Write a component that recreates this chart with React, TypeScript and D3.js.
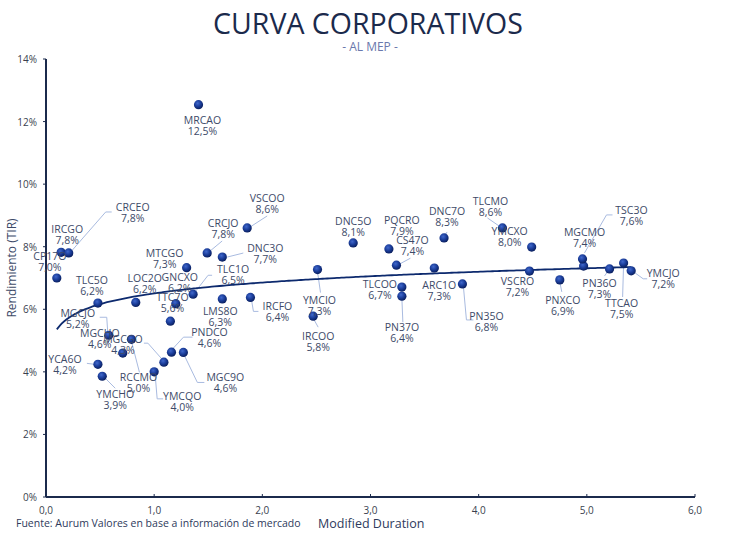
import React from "react";
import * as d3 from "d3";

const WIDTH = 736;
const HEIGHT = 536;
const MARGIN = { top: 59, right: 41, bottom: 39, left: 46 };

// bonds: ticker, modified duration, yield (%)
const tickers = [
  "MRCAO", "CP17O", "IRCGO", "CRCEO", "TLC5O", "LOC2O", "MTCGO", "GNCXO", "TLC1O", "TTC7O",
  "CRCJO", "DNC3O", "VSCOO", "LMS8O", "IRCFO", "MGCJO", "MGCHO", "MGCGO", "YCA6O", "YMCHO",
  "RCCMO", "YMCQO", "PNDCO", "MGC9O", "DNC5O", "PQCRO", "CS47O", "DNC7O", "ARC1O", "YMCIO",
  "IRCOO", "TLCOO", "PN37O", "PN35O", "TLCMO", "YMCXO", "VSCRO", "PNXCO", "MGCMO", "TSC3O",
  "PN36O", "TTCAO", "YMCJO",
];
const durations = [
  1.41, 0.10, 0.14, 0.21, 0.48, 0.83, 1.30, 1.20, 1.36, 1.15,
  1.49, 1.63, 1.86, 1.63, 1.89, 0.58, 0.71, 1.09, 0.48, 0.52,
  0.79, 1.00, 1.16, 1.27, 2.84, 3.17, 3.24, 3.68, 3.59, 2.51,
  2.47, 3.29, 3.29, 3.85, 4.22, 4.49, 4.47, 4.75, 4.97, 4.96,
  5.21, 5.34, 5.41,
];
const yields = [
  12.54, 7.0, 7.82, 7.8, 6.2, 6.22, 7.33, 6.18, 6.48, 5.62,
  7.8, 7.67, 8.6, 6.33, 6.38, 5.17, 4.6, 4.31, 4.24, 3.86,
  5.04, 4.0, 4.63, 4.62, 8.12, 7.93, 7.41, 8.28, 7.32, 7.27,
  5.78, 6.71, 6.42, 6.81, 8.6, 7.99, 7.22, 6.94, 7.38, 7.61,
  7.29, 7.48, 7.23,
];

const xTicks = [0, 1, 2, 3, 4, 5, 6];
const yTicks = [0, 2, 4, 6, 8, 10, 12, 14];

// label placement (px, relative to the dot) and leader line points
type LabelPos = { dx: number; dy: number; leader?: [number, number][] };
const LABELS: Record<string, LabelPos> = {
  MRCAO: { dx: 4, dy: 15 },
  CP17O: { dx: -7, dy: -22 },
  IRCGO: { dx: 6, dy: -23 },
  CRCEO: { dx: 64, dy: -46, leader: [[2, -1], [37, -41], [43, -41]] },
  TLC5O: { dx: -6, dy: -23 },
  LOC2O: { dx: 9, dy: -24 },
  MTCGO: { dx: -22, dy: -15 },
  GNCXO: { dx: 4, dy: -27 },
  TLC1O: { dx: 40, dy: -25, leader: [[1, -1], [15, -19], [19, -19]] },
  TTC7O: { dx: 2, dy: -24 },
  CRCJO: { dx: 16, dy: -30, leader: [[3, -2], [15, -12]] },
  DNC3O: { dx: 43, dy: -9, leader: [[5, 0], [21, -4]] },
  VSCOO: { dx: 20, dy: -30, leader: [[3, -1], [20, -12]] },
  LMS8O: { dx: -2, dy: 12 },
  IRCFO: { dx: 27, dy: 9, leader: [[1, 2], [3, 14], [8, 14]] },
  MGCJO: { dx: -31, dy: -22, leader: [[-1, -3], [-2, -18], [-9, -18]] },
  MGCHO: { dx: -23, dy: -20 },
  MGCGO: { dx: -41, dy: -23, leader: [[-1, -2], [-16, -19], [-20, -19]] },
  YCA6O: { dx: -33, dy: -5, leader: [[-3, 0], [-11, -1]] },
  YMCHO: { dx: 13, dy: 18, leader: [[1, 0], [13, 12]] },
  RCCMO: { dx: 7, dy: 38, leader: [[0, 2], [8, 33]] },
  YMCQO: { dx: 28, dy: 24, leader: [[1, 3], [3, 27], [9, 27]] },
  PNDCO: { dx: 38, dy: -20, leader: [[0, -2], [12, -15], [21, -15]] },
  MGC9O: { dx: 42, dy: 25, leader: [[0, 1], [14, 30], [21, 30]] },
  DNC5O: { dx: 0, dy: -22 },
  PQCRO: { dx: 13, dy: -29 },
  CS47O: { dx: 16, dy: -25, leader: [[1, 0], [14, -7]] },
  DNC7O: { dx: 3, dy: -27, leader: [[0, -1], [3, -6]] },
  ARC1O: { dx: 5, dy: 17 },
  YMCIO: { dx: 2, dy: 30, leader: [[0, 2], [3, 23]] },
  IRCOO: { dx: 5, dy: 20, leader: [[0, 2], [5, 11]] },
  TLCOO: { dx: -22, dy: -3 },
  PN37O: { dx: 0, dy: 31, leader: [[0, 2], [1, 26]] },
  PN35O: { dx: 24, dy: 32, leader: [[1, 3], [4, 36], [11, 36]] },
  TLCMO: { dx: -12, dy: -27, leader: [[-2, -1], [-15, -10]] },
  YMCXO: { dx: -22, dy: -16 },
  VSCRO: { dx: -12, dy: 10 },
  PNXCO: { dx: 3, dy: 20, leader: [[0, 2], [2, 12]] },
  MGCMO: { dx: 1, dy: -34 },
  TSC3O: { dx: 49, dy: -49, leader: [[2, -6], [24, -44], [30, -44]] },
  PN36O: { dx: -10, dy: 14, leader: [[0, 0], [-5, 7]] },
  TTCAO: { dx: -2, dy: 40, leader: [[0, 0], [-1, 34]] },
  YMCJO: { dx: 32, dy: 2, leader: [[1, 0], [12, 8], [16, 8]] },
};

const FONT = "'Open Sans', 'Noto Sans', sans-serif";
const NAVY = "#1b2a4c";
const LABEL_COLOR = "#3d4a68";

const fmtPct = (v: number) => v.toFixed(1).replace(".", ",") + "%";

export default function App() {
  const boundsWidth = WIDTH - MARGIN.left - MARGIN.right;
  const boundsHeight = HEIGHT - MARGIN.top - MARGIN.bottom;

  const xScale = d3.scaleLinear().domain([0, 6]).range([0, boundsWidth]);
  const yScale = d3.scaleLinear().domain([0, 14]).range([boundsHeight, 0]);

  const data = tickers.map((t, i) => ({ name: t, x: durations[i], y: yields[i] }));

  // logarithmic trend line (least squares on ln(x))
  const lx = data.map((d) => Math.log(d.x));
  const mx = d3.mean(lx) as number;
  const my = d3.mean(data, (d) => d.y) as number;
  const b =
    d3.sum(data, (d, i) => (lx[i] - mx) * (d.y - my)) /
    d3.sum(lx, (v) => (v - mx) * (v - mx));
  const a = my - b * mx;
  const [xMin, xMax] = d3.extent(durations) as [number, number];
  const trendPts = d3.range(0, 121).map((i) => {
    const x = xMin + ((xMax - xMin) * i) / 120;
    return [x, a + b * Math.log(x)] as [number, number];
  });
  const trendPath = d3
    .line<[number, number]>()
    .x((d) => xScale(d[0]))
    .y((d) => yScale(d[1]))
    .curve(d3.curveMonotoneX)(trendPts);

  return (
    <div style={{ position: "absolute", left: 0, top: 0 }}>
      <svg width={WIDTH} height={HEIGHT} style={{ display: "block", background: "#fff" }}>
        <defs>
          <radialGradient id="dotGrad" cx="40%" cy="35%" r="65%">
            <stop offset="0%" stopColor="#4068cc" />
            <stop offset="55%" stopColor="#1a3c98" />
            <stop offset="100%" stopColor="#0a1f5e" />
          </radialGradient>
        </defs>

        {/* titles */}
        <text x={368} y={34} textAnchor="middle" fontFamily={FONT} fontSize={28.5} fill={NAVY}>
          CURVA CORPORATIVOS
        </text>
        <text x={370} y={51} textAnchor="middle" fontFamily={FONT} fontSize={12} fill="#6a78ac">
          - AL MEP -
        </text>

        <g transform={`translate(${MARGIN.left},${MARGIN.top})`}>
          {/* y axis */}
          <line x1={0} x2={0} y1={0} y2={boundsHeight} stroke={NAVY} strokeWidth={2} />
          {yTicks.map((t) => (
            <g key={t} transform={`translate(0,${yScale(t)})`}>
              <line x1={-3} x2={0} stroke={NAVY} strokeWidth={1} />
              <text x={-9} y={4} textAnchor="end" fontFamily={FONT} fontSize={10} fill="#3a3f4f">
                {t}%
              </text>
            </g>
          ))}
          {/* x axis */}
          <line x1={0} x2={boundsWidth} y1={boundsHeight} y2={boundsHeight} stroke={NAVY} strokeWidth={2} />
          {xTicks.map((t) => (
            <g key={t} transform={`translate(${xScale(t)},${boundsHeight})`}>
              <line y1={-3} y2={0} stroke={NAVY} strokeWidth={1} />
              <text y={17} textAnchor="middle" fontFamily={FONT} fontSize={10} fill="#3a3f4f">
                {t.toFixed(1).replace(".", ",")}
              </text>
            </g>
          ))}

          {/* leader lines */}
          {data.map((d) => {
            const p = LABELS[d.name];
            if (!p || !p.leader) return null;
            const cx = xScale(d.x);
            const cy = yScale(d.y);
            const pts = p.leader.map(([lx2, ly2]) => `${cx + lx2},${cy + ly2}`).join(" ");
            return (
              <polyline key={"l" + d.name} points={pts} fill="none" stroke="#a9bbe0" strokeWidth={1} />
            );
          })}

          {/* trend line */}
          <path d={trendPath || ""} fill="none" stroke="#0d2a6e" strokeWidth={1.8} />

          {/* dots */}
          {data.map((d) => (
            <circle
              key={d.name}
              cx={xScale(d.x)}
              cy={yScale(d.y)}
              r={4.6}
              fill="url(#dotGrad)"
            />
          ))}

          {/* data labels */}
          {data.map((d) => {
            const p = LABELS[d.name] || { dx: 0, dy: -20 };
            const cx = xScale(d.x) + p.dx;
            const cy = yScale(d.y) + p.dy;
            return (
              <text
                key={"t" + d.name}
                textAnchor="middle"
                fontFamily={FONT}
                fontSize={10.5}
                fill={LABEL_COLOR}
              >
                <tspan x={cx} y={cy + 4}>{d.name}</tspan>
                <tspan x={cx} y={cy + 15}>{fmtPct(d.y)}</tspan>
              </text>
            );
          })}
        </g>

        {/* axis titles & source */}
        <text
          transform={`translate(16,268) rotate(-90)`}
          textAnchor="middle"
          fontFamily={FONT}
          fontSize={12}
          fill="#3d4a68"
        >
          Rendimiento (TIR)
        </text>
        <text x={16} y={527} fontFamily={FONT} fontSize={10.5} fill="#2e3a5c">
          Fuente: Aurum Valores en base a información de mercado
        </text>
        <text x={318} y={528} fontFamily={FONT} fontSize={12.5} fill="#2e3a5c">
          Modified Duration
        </text>
      </svg>
    </div>
  );
}
